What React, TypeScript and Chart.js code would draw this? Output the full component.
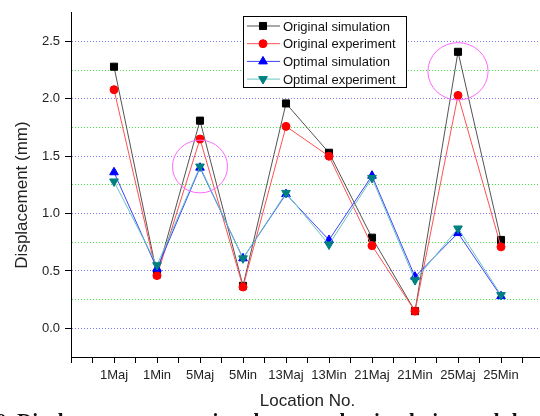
import React, { useEffect, useRef } from "react";
import { Chart, registerables } from "chart.js";
import { drawPoint } from "chart.js/helpers";

Chart.register(...registerables);

const locations = ["1Maj", "1Min", "5Maj", "5Min", "13Maj", "13Min", "21Maj", "21Min", "25Maj", "25Min"];
const originalSimulation = [2.28, 0.47, 1.81, 0.37, 1.96, 1.53, 0.79, 0.15, 2.41, 0.77];
const originalExperiment = [2.08, 0.46, 1.65, 0.36, 1.76, 1.5, 0.72, 0.15, 2.03, 0.71];
const optimalSimulation = [1.36, 0.52, 1.4, 0.61, 1.17, 0.77, 1.33, 0.45, 0.83, 0.28];
const optimalExperiment = [1.28, 0.55, 1.41, 0.61, 1.18, 0.73, 1.31, 0.42, 0.87, 0.29];
const seriesNames = ["Original simulation", "Original experiment", "Optimal simulation", "Optimal experiment"];
// highlight ellipses: [x (location index), y (mm)] and radii [x (index units), y (mm)]
const highlightCenters = [[3, 1.41], [9, 2.24]];
const highlightRadii = [[0.64, 0.23], [0.7, 0.25]];
const yTitle = "Displacement (mm)";

const FONT = "'Liberation Sans', Arial, sans-serif";

const toPoints = (arr: number[]) => arr.map((v, i) => ({ x: i + 1, y: v }));

export default function App() {
  const ref = useRef<HTMLCanvasElement | null>(null);

  useEffect(() => {
    const canvas = ref.current;
    if (!canvas) return;

    const ellipsePlugin = {
      id: "ellipses",
      afterDatasetsDraw(chart: any) {
        const { ctx, scales } = chart;
        const xs = scales.x, ys = scales.y;
        ctx.save();
        ctx.strokeStyle = "#ff66ff";
        ctx.lineWidth = 1;
        highlightCenters.forEach((c, i) => {
          const cx = xs.getPixelForValue(c[0]);
          const cy = ys.getPixelForValue(c[1]);
          const rx = Math.abs(xs.getPixelForValue(c[0] + highlightRadii[i][0]) - cx);
          const ry = Math.abs(ys.getPixelForValue(c[1] + highlightRadii[i][1]) - cy);
          ctx.beginPath();
          ctx.ellipse(cx, cy, rx, ry, 0, 0, Math.PI * 2);
          ctx.stroke();
        });
        ctx.restore();
      },
    };

    const legendPlugin = {
      id: "boxLegend",
      afterDraw(chart: any) {
        const { ctx } = chart;
        const left = 243.5, top = 16.5, w = 163, h = 71;
        ctx.save();
        ctx.fillStyle = "#ffffff";
        ctx.fillRect(left, top, w, h);
        ctx.strokeStyle = "#000";
        ctx.lineWidth = 1;
        ctx.strokeRect(left, top, w, h);
        ctx.font = `13px ${FONT}`;
        ctx.textBaseline = "middle";
        ctx.textAlign = "left";
        chart.data.datasets.forEach((ds: any, i: number) => {
          const y = 26 + i * 17.7;
          ctx.strokeStyle = ds.borderColor;
          ctx.lineWidth = 1;
          ctx.beginPath();
          ctx.moveTo(247, y);
          ctx.lineTo(280, y);
          ctx.stroke();
          ctx.fillStyle = ds.pointBackgroundColor;
          ctx.strokeStyle = ds.pointBorderColor;
          drawPoint(ctx, { pointStyle: ds.pointStyle, rotation: ds.pointRotation || 0, radius: ds.pointRadius, borderWidth: 1 }, 263, y);
          ctx.fillStyle = "#111";
          ctx.fillText(seriesNames[i], 283, y + 1);
        });
        // y axis title
        ctx.translate(22, 195);
        ctx.rotate(-Math.PI / 2);
        ctx.font = `17px ${FONT}`;
        ctx.textAlign = "center";
        ctx.fillStyle = "#222";
        ctx.fillText(yTitle, 0, 0);
        ctx.restore();
      },
    };

    const mk = (label: string, data: number[], line: string, marker: string, style: string, radius: number, order: number, rotation = 0) => ({
      label,
      data: toPoints(data),
      borderColor: line,
      borderWidth: 1,
      pointBackgroundColor: marker,
      pointBorderColor: marker,
      pointBorderWidth: 1,
      pointStyle: style,
      pointRadius: radius,
      pointRotation: rotation,
      showLine: true,
      tension: 0,
      order,
    });

    const chart = new Chart(canvas, {
      type: "scatter",
      data: {
        datasets: [
          mk(seriesNames[0], originalSimulation, "rgba(40,40,40,0.8)", "#000000", "rect", 5, 4),
          mk(seriesNames[1], originalExperiment, "#ff5050", "#ff0000", "circle", 4, 3),
          mk(seriesNames[2], optimalSimulation, "#4040ff", "#0000ff", "triangle", 5, 2),
          mk(seriesNames[3], optimalExperiment, "#66c4c4", "#008080", "triangle", 5, 1, 180),
        ] as any,
      },
      options: {
        responsive: false,
        animation: false,
        devicePixelRatio: 1,
        layout: { padding: { top: 10, right: 16, left: 0, bottom: 0 } },
        plugins: { legend: { display: false }, tooltip: { enabled: false } },
        scales: {
          x: {
            type: "linear",
            min: 0,
            max: 11,
            afterFit: (s: any) => { s.height = 59; },
            ticks: {
              stepSize: 0.5,
              autoSkip: false,
              maxRotation: 0,
              padding: 5,
              color: "#222",
              font: { family: FONT, size: 13 },
              callback: (v: any) => {
                const n = Number(v);
                return Number.isInteger(n) && n >= 1 && n <= locations.length ? locations[n - 1] : "";
              },
            },
            grid: { drawOnChartArea: false, tickLength: 6, tickColor: "#000", lineWidth: 1 },
            border: { color: "#000", width: 1 },
            title: { display: true, text: "Location No.", color: "#222", font: { family: FONT, size: 17 }, padding: { top: 0, bottom: 4 } },
          },
          y: {
            type: "linear",
            min: -0.25,
            max: 2.75,
            afterFit: (s: any) => { s.width = 71; },
            ticks: {
              stepSize: 0.25,
              autoSkip: false,
              padding: 5,
              color: "#222",
              font: { family: FONT, size: 13 },
              callback: (v: any) => {
                const q = Math.round(Number(v) * 4);
                return q % 2 === 0 && q >= 0 && q <= 10 ? Number(v).toFixed(1) : "";
              },
            },
            grid: {
              lineWidth: 1,
              tickLength: 6,
              color: (ctx: any) => {
                const q = Math.round((ctx.tick?.value ?? 0) * 4);
                if (q < 0 || q > 10) return "rgba(0,0,0,0)";
                return q % 2 === 0 ? "#7a7aff" : "#44e044";
              },
              tickColor: (ctx: any) => {
                const q = Math.round((ctx.tick?.value ?? 0) * 4);
                return q % 2 === 0 ? "#000" : "rgba(0,0,0,0)";
              },
            },
            border: { color: "#000", width: 1, dash: [1, 2] },
            title: { display: false },
          },
        },
      } as any,
      plugins: [ellipsePlugin, legendPlugin],
    });

    return () => chart.destroy();
  }, []);

  return (
    <div style={{ position: "fixed", left: 0, top: 0, width: 540, height: 416, overflow: "hidden", background: "#fff" }}>
      <canvas ref={ref} width={560} height={416} style={{ display: "block" }} />
      <div
        style={{
          position: "absolute",
          left: -4,
          top: 409,
          whiteSpace: "nowrap",
          fontFamily: "'Liberation Serif', 'Times New Roman', serif",
          fontSize: 21,
          fontWeight: "bold",
          lineHeight: "24px",
          color: "#111",
        }}
      >
        9. Displacement comparison between the simulation and the experiment of
      </div>
    </div>
  );
}
